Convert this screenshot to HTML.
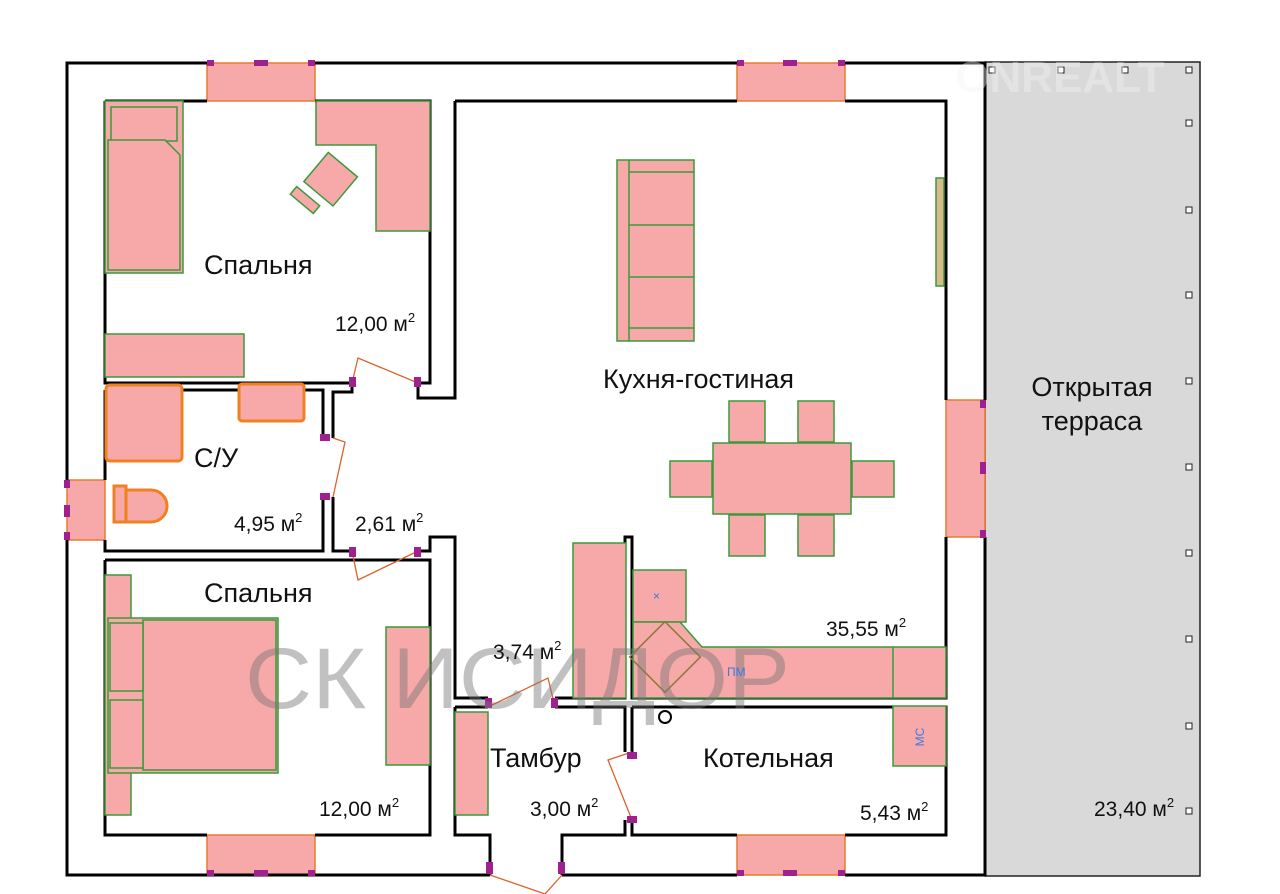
<!DOCTYPE html>
<html><head><meta charset="utf-8"><style>
html,body{margin:0;padding:0;background:#fff;width:1280px;height:894px;overflow:hidden}
svg{display:block}
text{font-family:"Liberation Sans",sans-serif;fill:#111}
</style></head><body>
<svg width="1280" height="894" viewBox="0 0 1280 894" xmlns="http://www.w3.org/2000/svg">
<rect x="985" y="62" width="215" height="814" fill="#d9d9d9" stroke="#222" stroke-width="1.5"/>
<g fill="#fff" stroke="#222" stroke-width="1">
<rect x="989" y="67" width="6" height="6"/><rect x="1058" y="67" width="6" height="6"/><rect x="1122" y="67" width="6" height="6"/><rect x="1186" y="67" width="6" height="6"/>
<rect x="1186" y="120" width="6" height="6"/><rect x="1186" y="207" width="6" height="6"/><rect x="1186" y="292" width="6" height="6"/><rect x="1186" y="378" width="6" height="6"/><rect x="1186" y="464" width="6" height="6"/><rect x="1186" y="550" width="6" height="6"/><rect x="1186" y="636" width="6" height="6"/><rect x="1186" y="723" width="6" height="6"/><rect x="1186" y="808" width="6" height="6"/>
</g>
<g fill="#f7a8a8" stroke="#e87a30" stroke-width="1.5">
<rect x="207" y="63" width="108" height="38"/><rect x="737" y="63" width="108" height="38"/>
<rect x="207" y="835" width="108" height="40"/><rect x="737" y="835" width="108" height="40"/>
<rect x="67" y="480" width="38" height="60"/><rect x="946" y="400" width="39" height="137"/>
</g>
<g fill="none" stroke="#000" stroke-width="3">
<path d="M207,63 H67 V480 M67,540 V875 H490 M562,875 H737 M845,875 H985 V537 M985,400 V63 H845 M737,63 H315"/>
<path d="M105,101 H207 M315,101 H430 V383 H418 M352,383 H105 V101"/>
<path d="M455,101 H737 M845,101 H946 V400 M946,537 V698 H632 V537 H625 V698 H555 M488,698 H455 V537 H430 V551 H418 M352,551 H333 V497 M333,438 V392 H352 V383 M418,383 V398 H455 V101"/>
<path d="M105,390 H323 V438 M323,497 V551 H105 V540 M105,480 V390"/>
<path d="M105,560 H430 V835 H315 M207,835 H105 V560"/>
<path d="M455,707 H488 M555,707 H625 V752 M625,820 V835 H562 V875 M490,875 V835 H455 V707"/>
<path d="M632,707 H946 V835 H845 M737,835 H632 V820 M632,752 V707"/>
</g>
<g fill="none" stroke="#e0602a" stroke-width="1.3">
<path d="M352,383 L358,358 L418,383"/><path d="M333,438 L345,442 L333,497"/><path d="M352,551 L358,580 L418,551"/>
<path d="M488,707 L548,678 L555,707"/><path d="M632,752 L608,760 L632,820"/><path d="M490,875 L545,894 L562,875"/>
</g>
<g fill="#a0208f">
<rect x="349" y="377" width="7" height="10"/><rect x="414" y="377" width="7" height="10"/><rect x="320" y="434" width="10" height="7"/><rect x="320" y="493" width="10" height="7"/><rect x="349" y="547" width="7" height="10"/><rect x="414" y="547" width="7" height="10"/>
<rect x="485" y="698" width="7" height="10"/><rect x="551" y="698" width="7" height="10"/><rect x="627" y="752" width="10" height="7"/><rect x="627" y="816" width="10" height="7"/><rect x="486" y="862" width="7" height="12"/><rect x="558" y="862" width="7" height="12"/>
<rect x="207" y="60" width="7" height="6"/><rect x="254" y="60" width="14" height="6"/><rect x="308" y="60" width="7" height="6"/><rect x="737" y="60" width="7" height="6"/><rect x="783" y="60" width="14" height="6"/><rect x="838" y="60" width="7" height="6"/>
<rect x="207" y="870" width="7" height="6"/><rect x="254" y="870" width="14" height="6"/><rect x="308" y="870" width="7" height="6"/><rect x="737" y="870" width="7" height="6"/><rect x="783" y="870" width="14" height="6"/><rect x="838" y="870" width="7" height="6"/>
<rect x="64" y="480" width="6" height="8"/><rect x="64" y="505" width="6" height="12"/><rect x="64" y="532" width="6" height="8"/>
<rect x="980" y="400" width="6" height="8"/><rect x="980" y="462" width="6" height="12"/><rect x="980" y="530" width="6" height="8"/>
</g>
<g fill="#f7a8a8" stroke="#3a9a3a" stroke-width="1.5">
<rect x="105" y="101" width="78" height="172"/><rect x="111" y="107" width="66" height="34"/><path d="M108,140 H165 L180,155 V270 H108 Z"/>
<path d="M316,101 H430 V231 H376 V145 H316 Z"/>
<rect x="311" y="160" width="38" height="38" transform="rotate(40 330 180)"/>
<rect x="300" y="185" width="10" height="30" transform="rotate(-50 305 200)"/>
<rect x="105" y="334" width="139" height="43"/>
<rect x="617" y="160" width="77" height="181"/><line x1="629" y1="160" x2="629" y2="341"/><line x1="629" y1="172" x2="694" y2="172"/><line x1="629" y1="225" x2="694" y2="225"/><line x1="629" y1="277" x2="694" y2="277"/><line x1="629" y1="328" x2="694" y2="328"/>
<rect x="936" y="178" width="8" height="108" fill="#d9b98c"/>
<rect x="713" y="443" width="138" height="71"/>
<rect x="729" y="401" width="36" height="41"/><rect x="798" y="401" width="36" height="41"/><rect x="729" y="515" width="36" height="41"/><rect x="798" y="515" width="36" height="41"/>
<rect x="670" y="461" width="42" height="36"/><rect x="852" y="461" width="42" height="36"/>
<rect x="573" y="543" width="53" height="155"/>
<rect x="633" y="570" width="53" height="52"/>
<path d="M633,622 H680 L702,647 H946 V698 H633 Z"/><line x1="893" y1="647" x2="893" y2="698"/>
<rect x="893" y="706" width="53" height="60"/>
<rect x="455" y="712" width="33" height="103"/>
<rect x="105" y="575" width="26" height="240"/><rect x="108" y="618" width="170" height="155"/><rect x="143" y="620" width="133" height="150"/><rect x="110" y="623" width="33" height="68"/><rect x="110" y="700" width="33" height="68"/>
<rect x="386" y="627" width="44" height="138"/>
</g>
<rect x="640" y="632" width="50" height="50" fill="none" stroke="#8a7a3a" stroke-width="1.5" transform="rotate(45 665 657)"/>
<g fill="#f7a8a8" stroke="#f08020" stroke-width="3">
<rect x="106" y="385" width="76" height="76" rx="4"/><rect x="239" y="384" width="65" height="37" rx="3"/>
<path d="M114,486 h12 v36 h-12 z M126,490 h25 a16,16 0 0 1 0,32 h-25 z"/>
</g>
<text x="245" y="708" font-size="86" textLength="545" lengthAdjust="spacingAndGlyphs" style="fill:#777;opacity:.45">СК ИСИДОР</text>
<text x="1060" y="92" font-size="44" font-weight="bold" style="fill:#f4f4f4;opacity:.4" text-anchor="middle">ONREALT</text>
<g font-size="27">
<text x="204" y="274">Спальня</text>
<text x="194" y="467">С/У</text>
<text x="204" y="602">Спальня</text>
<text x="603" y="388">Кухня-гостиная</text>
<text x="1092" y="396" text-anchor="middle">Открытая</text>
<text x="1092" y="430" text-anchor="middle">терраса</text>
<text x="490" y="767">Тамбур</text>
<text x="703" y="767">Котельная</text>
</g>
<g font-size="21">
<text x="335" y="331">12,00 м<tspan font-size="13" dy="-9">2</tspan></text>
<text x="234" y="531">4,95 м<tspan font-size="13" dy="-9">2</tspan></text>
<text x="355" y="531">2,61 м<tspan font-size="13" dy="-9">2</tspan></text>
<text x="493" y="659">3,74 м<tspan font-size="13" dy="-9">2</tspan></text>
<text x="826" y="636">35,55 м<tspan font-size="13" dy="-9">2</tspan></text>
<text x="319" y="816">12,00 м<tspan font-size="13" dy="-9">2</tspan></text>
<text x="530" y="816">3,00 м<tspan font-size="13" dy="-9">2</tspan></text>
<text x="860" y="820">5,43 м<tspan font-size="13" dy="-9">2</tspan></text>
<text x="1094" y="816">23,40 м<tspan font-size="13" dy="-9">2</tspan></text>
</g>
<g font-size="12">
<text x="653" y="600" style="fill:#3a7ae0">×</text>
<text x="727" y="676" style="fill:#3a7ae0">ПМ</text>
<text x="924" y="737" style="fill:#3a7ae0" transform="rotate(-90 924 737)" text-anchor="middle">МС</text>
</g>
<circle cx="665" cy="717" r="6" fill="none" stroke="#000" stroke-width="2"/>
</svg>
</body></html>
